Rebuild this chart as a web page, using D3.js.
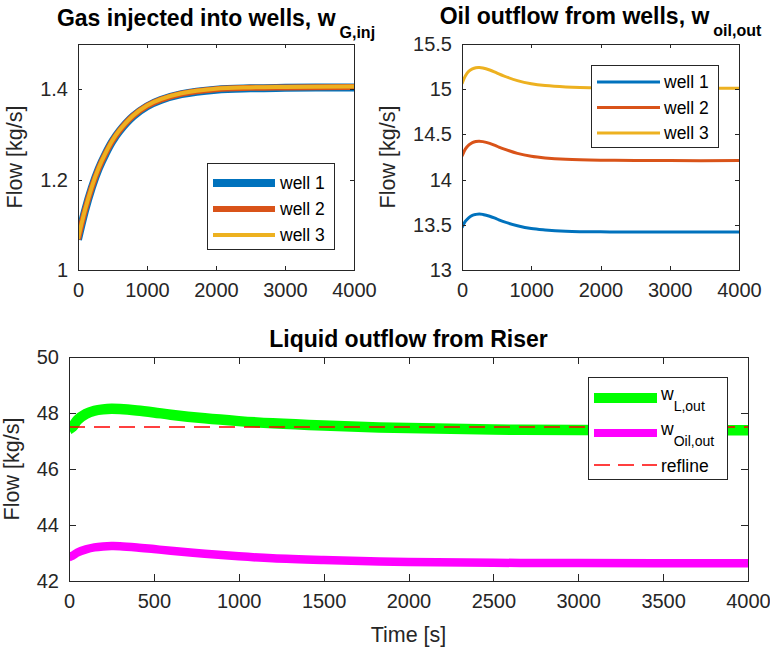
<!DOCTYPE html>
<html>
<head>
<meta charset="utf-8">
<script src="https://cdn.jsdelivr.net/npm/d3@7"></script>
<style>
  body { margin: 0; background: #fff; }
  svg { font-family: "Liberation Sans", Arial, Helvetica, sans-serif; }
</style>
</head>
<body>
<svg id="fig" width="770" height="651"></svg>
<script>
// time samples [s]
const tGas = [0, 100, 200, 300, 400, 500, 600, 800, 1000, 1200, 1500, 2000, 2500, 3000, 4000];
const gasWell1 = [1.067, 1.130, 1.182, 1.224, 1.257, 1.285, 1.307, 1.340, 1.362, 1.376, 1.389, 1.399, 1.402, 1.403, 1.404];
const gasWell2 = [1.068, 1.131, 1.183, 1.225, 1.258, 1.286, 1.308, 1.341, 1.363, 1.377, 1.390, 1.400, 1.403, 1.404, 1.405];
const gasWell3 = [1.069, 1.132, 1.184, 1.226, 1.259, 1.287, 1.309, 1.342, 1.364, 1.378, 1.391, 1.401, 1.404, 1.405, 1.406];

const tOil = [0, 50, 100, 150, 200, 250, 300, 400, 500, 600, 800, 1000, 1200, 1500, 2000, 2500, 3000, 4000];
const oilWell1 = [13.47, 13.54, 13.58, 13.605, 13.615, 13.62, 13.615, 13.595, 13.565, 13.535, 13.49, 13.458, 13.443, 13.43, 13.422, 13.42, 13.42, 13.42];
const oilWell2 = [14.26, 14.34, 14.385, 14.41, 14.422, 14.425, 14.42, 14.40, 14.37, 14.34, 14.29, 14.258, 14.24, 14.225, 14.215, 14.212, 14.21, 14.21];
const oilWell3 = [15.06, 15.15, 15.20, 15.225, 15.238, 15.24, 15.235, 15.212, 15.18, 15.148, 15.095, 15.06, 15.04, 15.025, 15.015, 15.012, 15.01, 15.01];

const tRiser = [0, 20, 50, 100, 150, 200, 250, 300, 400, 500, 600, 800, 1000, 1200, 1500, 2000, 2500, 3000, 4000];
const wLout = [47.42, 47.50, 47.75, 47.97, 48.08, 48.13, 48.15, 48.14, 48.09, 48.02, 47.94, 47.81, 47.71, 47.63, 47.55, 47.46, 47.41, 47.39, 47.38];
const wOilOut = [42.85, 42.90, 43.02, 43.13, 43.20, 43.235, 43.25, 43.245, 43.20, 43.14, 43.08, 42.97, 42.88, 42.81, 42.75, 42.68, 42.65, 42.64, 42.63];
const refline = 47.5;

const wellNames = ["well 1", "well 2", "well 3"];
const gasTicksY = [1, 1.2, 1.4];
const oilTicksY = [13, 13.5, 14, 14.5, 15, 15.5];
const riserTicksY = [42, 44, 46, 48, 50];
const ticksX4 = [0, 1000, 2000, 3000, 4000];
const ticksX8 = [0, 500, 1000, 1500, 2000, 2500, 3000, 3500, 4000];

const AX = "#262626";
const svg = d3.select("#fig");

function panel({ left, top, width, height, yDomain, yTicks, xTicks, yFmt, tickLen }) {
  const g = svg.append("g").attr("transform", `translate(${left},${top})`);
  const x = d3.scaleLinear().domain([0, 4000]).range([0, width]);
  const y = d3.scaleLinear().domain(yDomain).range([height, 0]);

  const clipId = "clip" + left + "_" + top;
  g.append("clipPath").attr("id", clipId)
    .append("rect").attr("width", width).attr("height", height);
  const plot = g.append("g").attr("clip-path", `url(#${clipId})`);

  // axes with inward ticks on all four sides
  const axisStyle = (sel) => {
    sel.select(".domain").remove();
    sel.selectAll("line").attr("stroke", AX).attr("shape-rendering", "crispEdges");
    sel.selectAll("text").attr("fill", AX).style("font-size", "20px");
  };
  g.append("g").attr("transform", `translate(0,${height})`)
    .call(d3.axisBottom(x).tickValues(xTicks).tickSizeInner(-tickLen).tickSizeOuter(0).tickPadding(13).tickFormat(d3.format("d")))
    .call(axisStyle)
    .selectAll("text").attr("dy", "0.71em");
  g.append("g")
    .call(d3.axisTop(x).tickValues(xTicks).tickSizeInner(-tickLen).tickSizeOuter(0).tickFormat(""))
    .call(axisStyle);
  g.append("g")
    .call(d3.axisLeft(y).tickValues(yTicks).tickSizeInner(-tickLen).tickSizeOuter(0).tickPadding(10).tickFormat(yFmt))
    .call(axisStyle);
  g.append("g").attr("transform", `translate(${width},0)`)
    .call(d3.axisRight(y).tickValues(yTicks).tickSizeInner(-tickLen).tickSizeOuter(0).tickFormat(""))
    .call(axisStyle);
  g.append("rect").attr("width", width).attr("height", height)
    .attr("fill", "none").attr("stroke", AX).attr("stroke-width", 1)
    .attr("shape-rendering", "crispEdges");

  return { g, plot, x, y, width, height };
}

function line(p, ts, vs) {
  return d3.line().x((d, i) => p.x(ts[i])).y((d) => p.y(d)).curve(d3.curveCatmullRom.alpha(0.5))(vs);
}

function yLabel(p, dx) {
  p.g.append("text")
    .attr("transform", `translate(${dx},${p.height / 2}) rotate(-90)`)
    .attr("text-anchor", "middle").attr("fill", AX)
    .style("font-size", "21.5px").text("Flow [kg/s]");
}

function title(p, main, sub, dy) {
  const t = p.g.append("text")
    .attr("x", p.width / 2).attr("y", dy)
    .attr("text-anchor", "middle").attr("fill", "#000")
    .style("font-size", "23px").style("font-weight", "bold");
  t.append("tspan").text(main);
  if (sub) t.append("tspan").attr("dx", 4).attr("dy", 12).style("font-size", "16px").text(sub);
}

function legendBox(p, bx, by, bw, bh) {
  const lg = p.g.append("g").attr("transform", `translate(${bx},${by})`);
  lg.append("rect").attr("width", bw).attr("height", bh)
    .attr("fill", "#fff").attr("stroke", AX).attr("stroke-width", 1)
    .attr("shape-rendering", "crispEdges");
  return lg;
}

const colors = ["#0072BD", "#D95319", "#EDB120"];

// ---------- top-left: gas injected ----------
const p1 = panel({ left: 78, top: 44, width: 276, height: 226, yDomain: [1, 1.5], yTicks: gasTicksY, xTicks: ticksX4, yFmt: d3.format("~g"), tickLen: 4 });
const gasSeries = [gasWell1, gasWell2, gasWell3];
const gasWidths = [8, 6, 4];
gasSeries.forEach((vs, i) => {
  p1.plot.append("path").attr("d", line(p1, tGas, vs))
    .attr("fill", "none").attr("stroke", colors[i]).attr("stroke-width", gasWidths[i]);
});
yLabel(p1, -56);
title(p1, "Gas injected into wells, w", "G,inj", -18);
{
  const lg = legendBox(p1, 129, 119, 127, 86);
  wellNames.forEach((n, i) => {
    const yy = 20 + i * 26;
    lg.append("line").attr("x1", 6).attr("x2", 68).attr("y1", yy).attr("y2", yy)
      .attr("stroke", colors[i]).attr("stroke-width", gasWidths[i]);
    lg.append("text").attr("x", 73).attr("y", yy + 6).attr("fill", "#000")
      .style("font-size", "17.5px").text(n);
  });
}

// ---------- top-right: oil outflow ----------
const p2 = panel({ left: 462, top: 44, width: 277, height: 226, yDomain: [13, 15.5], yTicks: oilTicksY, xTicks: ticksX4, yFmt: d3.format("~g"), tickLen: 4 });
[oilWell1, oilWell2, oilWell3].forEach((vs, i) => {
  p2.plot.append("path").attr("d", line(p2, tOil, vs))
    .attr("fill", "none").attr("stroke", colors[i]).attr("stroke-width", 3);
});
yLabel(p2, -67);
title(p2, "Oil outflow from wells, w", "oil,out", -20);
{
  const lg = legendBox(p2, 129, 21, 127, 82);
  wellNames.forEach((n, i) => {
    const yy = 17 + i * 25.5;
    lg.append("line").attr("x1", 6).attr("x2", 69).attr("y1", yy).attr("y2", yy)
      .attr("stroke", colors[i]).attr("stroke-width", 3);
    lg.append("text").attr("x", 73).attr("y", yy + 6).attr("fill", "#000")
      .style("font-size", "17.5px").text(n);
  });
}

// ---------- bottom: riser ----------
const p3 = panel({ left: 69, top: 357, width: 679, height: 224, yDomain: [42, 50], yTicks: riserTicksY, xTicks: ticksX8, yFmt: d3.format("d"), tickLen: 7 });
p3.plot.append("path").attr("d", line(p3, tRiser, wLout))
  .attr("fill", "none").attr("stroke", "#00FF00").attr("stroke-width", 10.5);
p3.plot.append("path").attr("d", line(p3, tRiser, wOilOut))
  .attr("fill", "none").attr("stroke", "#FF00FF").attr("stroke-width", 8.5);
const refY = Math.round(p3.y(refline));
p3.plot.append("line")
  .attr("x1", p3.x(0)).attr("x2", p3.x(4000))
  .attr("y1", refY).attr("y2", refY)
  .attr("stroke", "#FF0000").attr("stroke-width", 1.6).attr("stroke-dasharray", "16,9");
yLabel(p3, -50);
title(p3, "Liquid outflow from Riser", null, -10);
p3.g.append("text").attr("x", p3.width / 2).attr("y", 285)
  .attr("text-anchor", "middle").attr("fill", AX)
  .style("font-size", "21.5px").text("Time [s]");
{
  const lg = legendBox(p3, 519, 20, 139, 102);
  const ent = [
    { sub: "L,out", c: "#00FF00", w: 10, dash: null, yy: 21 },
    { sub: "Oil,out", c: "#FF00FF", w: 8, dash: null, yy: 56 },
    { sub: null, c: "#FF0000", w: 1.6, dash: "16,8", yy: 88 }
  ];
  ent.forEach((e) => {
    lg.append("line").attr("x1", 6).attr("x2", 69).attr("y1", e.yy).attr("y2", e.yy)
      .attr("stroke", e.c).attr("stroke-width", e.w).attr("stroke-dasharray", e.dash);
    const t = lg.append("text").attr("x", 73).attr("fill", "#000").style("font-size", "17.5px");
    if (e.sub) {
      t.attr("y", e.yy + 2);
      t.append("tspan").text("w");
      t.append("tspan").attr("dy", 11).style("font-size", "14px").text(e.sub);
    } else {
      t.attr("y", e.yy + 7).text("refline");
    }
  });
}
</script>
</body>
</html>
